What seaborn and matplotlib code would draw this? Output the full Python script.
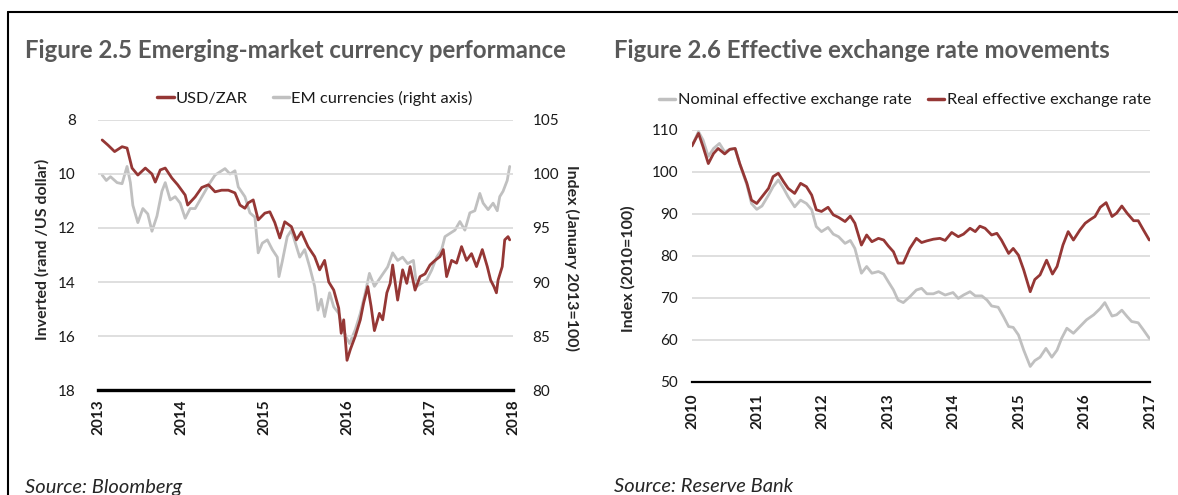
import numpy as np
import pandas as pd
import matplotlib
matplotlib.use('Agg')
import matplotlib.pyplot as plt
import seaborn as sns
from matplotlib.lines import Line2D

# Figure 2.5: USD/ZAR (inverted, left axis) and EM currency index (right axis)
zar_years = [2013.05, 2013.12, 2013.20, 2013.29, 2013.35, 2013.41, 2013.48, 2013.57, 2013.65, 2013.69,
             2013.75, 2013.81, 2013.89, 2013.96, 2014.05, 2014.08, 2014.17, 2014.25, 2014.33, 2014.41,
             2014.49, 2014.57, 2014.65, 2014.71, 2014.77, 2014.81, 2014.87, 2014.93, 2015.01, 2015.07,
             2015.13, 2015.19, 2015.25, 2015.33, 2015.39, 2015.45, 2015.53, 2015.61, 2015.67, 2015.73,
             2015.78, 2015.84, 2015.90, 2015.93, 2015.96, 2016.00, 2016.04, 2016.10, 2016.16, 2016.20,
             2016.25, 2016.29, 2016.33, 2016.39, 2016.43, 2016.48, 2016.52, 2016.55, 2016.61, 2016.67,
             2016.72, 2016.76, 2016.82, 2016.88, 2016.94, 2017.00, 2017.06, 2017.12, 2017.16, 2017.20,
             2017.26, 2017.32, 2017.38, 2017.44, 2017.50, 2017.56, 2017.63, 2017.69, 2017.73, 2017.77,
             2017.80, 2017.82, 2017.87, 2017.90, 2017.94, 2017.96]
zar_rate = [8.74, 8.93, 9.17, 8.99, 9.04, 9.78, 10.04, 9.78, 10.0, 10.3,
            9.85, 9.78, 10.15, 10.4, 10.78, 11.15, 10.85, 10.5, 10.4, 10.66,
            10.6, 10.6, 10.7, 11.15, 11.27, 11.07, 10.96, 11.7, 11.45, 11.4,
            11.8, 12.37, 11.77, 11.95, 12.44, 12.15, 12.69, 13.06, 13.55, 13.2,
            14.0, 14.3, 14.97, 15.9, 15.4, 16.9, 16.5, 16.0, 15.4, 14.78,
            14.17, 14.9, 15.8, 15.16, 15.4, 14.4, 14.05, 13.37, 14.67, 13.55,
            14.05, 13.43, 14.3, 13.8, 13.7, 13.37, 13.2, 13.06, 12.8, 13.8,
            13.2, 13.3, 12.69, 13.2, 12.95, 13.43, 12.8, 13.43, 13.93, 14.17,
            14.4, 13.93, 13.43, 12.44, 12.32, 12.44]

em_years = [2013.05, 2013.10, 2013.15, 2013.23, 2013.29, 2013.35, 2013.39, 2013.42, 2013.48, 2013.54,
            2013.60, 2013.65, 2013.71, 2013.77, 2013.81, 2013.87, 2013.93, 2013.99, 2014.05, 2014.11,
            2014.17, 2014.23, 2014.29, 2014.35, 2014.41, 2014.47, 2014.53, 2014.59, 2014.65, 2014.69,
            2014.77, 2014.83, 2014.89, 2014.93, 2014.98, 2015.04, 2015.10, 2015.16, 2015.18, 2015.22,
            2015.28, 2015.33, 2015.39, 2015.43, 2015.49, 2015.55, 2015.61, 2015.65, 2015.69, 2015.73,
            2015.79, 2015.84, 2015.90, 2015.94, 2015.99, 2016.03, 2016.10, 2016.16, 2016.22, 2016.27,
            2016.33, 2016.41, 2016.49, 2016.55, 2016.61, 2016.67, 2016.73, 2016.80, 2016.84, 2016.90,
            2016.96, 2017.02, 2017.08, 2017.14, 2017.18, 2017.24, 2017.30, 2017.36, 2017.42, 2017.48,
            2017.54, 2017.60, 2017.64, 2017.70, 2017.76, 2017.81, 2017.84, 2017.88, 2017.93, 2017.96]
em_index = [99.9, 99.4, 99.75, 99.2, 99.1, 100.7, 99.2, 97.1, 95.5, 96.8,
            96.3, 94.7, 96.1, 98.4, 99.2, 97.6, 97.9, 97.3, 95.9, 96.8,
            96.8, 97.6, 98.4, 99.2, 99.9, 100.2, 100.5, 100.0, 100.3, 98.8,
            97.9, 96.4, 96.0, 92.7, 93.6, 93.9, 93.0, 92.3, 90.5, 91.9,
            94.2, 94.8, 93.3, 92.3, 93.0, 91.4, 89.6, 87.4, 88.4, 86.8,
            89.0, 87.7, 87.1, 85.9, 84.9, 84.3, 85.6, 87.1, 89.0, 90.8,
            89.6, 90.5, 91.4, 92.7, 92.0, 92.3, 91.7, 92.0, 89.6, 89.9,
            90.2, 91.1, 92.3, 93.0, 94.2, 94.5, 94.8, 95.6, 94.8, 96.4,
            96.6, 98.2, 97.3, 96.7, 97.3, 96.6, 97.9, 98.4, 99.4, 100.7]

# Figure 2.6: effective exchange rates (2010=100)
reer_years = [2010.00, 2010.10, 2010.17, 2010.25, 2010.33, 2010.40, 2010.50, 2010.58, 2010.66, 2010.73,
              2010.84, 2010.91, 2010.99, 2011.07, 2011.17, 2011.24, 2011.32, 2011.40, 2011.47, 2011.57,
              2011.66, 2011.75, 2011.83, 2011.90, 2011.98, 2012.08, 2012.16, 2012.24, 2012.34, 2012.42,
              2012.49, 2012.59, 2012.67, 2012.75, 2012.85, 2012.93, 2013.00, 2013.08, 2013.15, 2013.23,
              2013.33, 2013.43, 2013.51, 2013.59, 2013.69, 2013.79, 2013.87, 2013.97, 2014.07, 2014.15,
              2014.25, 2014.33, 2014.40, 2014.48, 2014.58, 2014.66, 2014.73, 2014.84, 2014.91, 2014.99,
              2015.07, 2015.17, 2015.24, 2015.32, 2015.42, 2015.51, 2015.58, 2015.67, 2015.75, 2015.83,
              2015.93, 2016.01, 2016.09, 2016.16, 2016.24, 2016.33, 2016.42, 2016.49, 2016.57, 2016.65,
              2016.75, 2016.82, 2016.90, 2016.99]
reer = [106.2, 109.2, 106.0, 102.0, 104.4, 105.6, 104.3, 105.4, 105.6, 102.0,
        97.3, 93.3, 92.5, 94.1, 96.1, 98.9, 99.7, 97.7, 96.1, 94.9,
        97.3, 96.5, 94.5, 91.0, 90.6, 91.6, 89.8, 89.2, 88.2, 89.5,
        87.8, 82.6, 85.0, 83.4, 84.2, 83.8, 82.4, 81.0, 78.3, 78.3,
        81.8, 84.2, 83.2, 83.6, 84.0, 84.2, 83.7, 85.6, 84.6, 85.2,
        86.6, 85.8, 87.1, 86.6, 85.0, 85.4, 83.8, 80.6, 81.8, 80.2,
        76.7, 71.5, 74.4, 75.5, 79.0, 75.7, 77.5, 82.6, 85.8, 83.8,
        86.2, 87.8, 88.7, 89.4, 91.6, 92.7, 89.4, 90.2, 91.9, 90.2,
        88.4, 88.4, 86.2, 83.8]

neer_years = [2010.00, 2010.10, 2010.17, 2010.25, 2010.33, 2010.42, 2010.50, 2010.58, 2010.66, 2010.73,
              2010.84, 2010.91, 2010.99, 2011.07, 2011.17, 2011.24, 2011.32, 2011.40, 2011.47, 2011.57,
              2011.66, 2011.75, 2011.83, 2011.90, 2011.98, 2012.08, 2012.16, 2012.24, 2012.34, 2012.42,
              2012.49, 2012.59, 2012.67, 2012.75, 2012.85, 2012.93, 2013.00, 2013.08, 2013.15, 2013.23,
              2013.33, 2013.43, 2013.51, 2013.59, 2013.69, 2013.77, 2013.87, 2013.99, 2014.07, 2014.15,
              2014.25, 2014.33, 2014.43, 2014.51, 2014.58, 2014.68, 2014.76, 2014.84, 2014.91, 2014.99,
              2015.07, 2015.17, 2015.24, 2015.32, 2015.41, 2015.50, 2015.58, 2015.65, 2015.73, 2015.83,
              2015.93, 2016.03, 2016.14, 2016.24, 2016.31, 2016.42, 2016.49, 2016.57, 2016.65, 2016.72,
              2016.82, 2016.90, 2016.99]
neer = [106.2, 109.6, 107.6, 103.7, 105.6, 106.8, 104.8, 105.4, 105.6, 102.0,
        96.9, 92.5, 91.1, 91.9, 94.5, 96.5, 98.1, 96.1, 94.1, 91.7,
        93.3, 92.5, 91.0, 87.0, 85.8, 86.8, 85.2, 84.6, 83.0, 83.7,
        81.8, 75.9, 77.5, 75.9, 76.3, 75.7, 73.9, 71.9, 69.5, 68.9,
        70.3, 71.9, 72.3, 71.0, 71.0, 71.5, 70.7, 71.3, 69.9, 70.7,
        71.5, 70.5, 70.5, 69.5, 68.1, 67.8, 65.6, 63.2, 63.0, 61.2,
        57.6, 53.7, 55.1, 55.9, 58.0, 55.9, 57.6, 60.4, 62.8, 61.6,
        63.2, 64.8, 66.0, 67.5, 68.9, 65.7, 66.0, 67.1, 65.6, 64.4,
        64.1, 62.4, 60.4]

RED = '#953735'
GREY = '#c0c0c0'
TITLE_GREY = '#595959'
GRID = '#d9d9d9'

sns.set_theme(style='white')
plt.rcParams['font.family'] = ['Lato', 'DejaVu Sans']
plt.rcParams['text.color'] = '#1a1a1a'
plt.rcParams['xtick.color'] = '#1a1a1a'
plt.rcParams['ytick.color'] = '#1a1a1a'

fig = plt.figure(figsize=(11.78, 4.95), dpi=100)


def style_axis(ax, ticks, bottom_lw):
    ax.set_yticks(ticks)
    ax.grid(False)
    for s in ['left', 'right', 'top']:
        ax.spines[s].set_visible(False)
    ax.spines['bottom'].set_color('black')
    ax.spines['bottom'].set_linewidth(bottom_lw)
    ax.tick_params(axis='both', length=0, labelsize=11)
    ax.set_xlabel('')


# ---------- Figure 2.5 ----------
ax1 = fig.add_axes([0.0832, 0.2121, 0.3523, 0.5455])
for g in [8, 10, 12, 14, 16]:
    ax1.axhline(g, color=GRID, lw=1.2, zorder=0)
sns.lineplot(x=zar_years, y=zar_rate, ax=ax1, color=RED, lw=2.0, zorder=3)
ax1.set_xlim(2013, 2018)
ax1.set_ylim(18, 8)
style_axis(ax1, [8, 10, 12, 14, 16, 18], 2.4)
ax1.set_xticks([2013, 2014, 2015, 2016, 2017, 2018])
ax1.set_xticklabels(['2013', '2014', '2015', '2016', '2017', '2018'], rotation=90, fontweight='bold')
ax1.tick_params(axis='y', pad=16)
ax1.tick_params(axis='x', pad=7)
ax1.set_ylabel('Inverted (rand /US dollar)', fontsize=11.5, fontweight='bold', color='#262626')
ax1.yaxis.label.set_va('center')
ax1.yaxis.set_label_coords(-0.135, 0.52)

ax1b = ax1.twinx()
sns.lineplot(x=em_years, y=em_index, ax=ax1b, color=GREY, lw=2.0, zorder=2)
ax1b.set_ylim(80, 105)
style_axis(ax1b, [80, 85, 90, 95, 100, 105], 2.4)
ax1b.spines['bottom'].set_visible(False)
ax1b.tick_params(axis='y', pad=14)
ax1b.set_ylabel('Index (January 2013=100)', fontsize=11.5, fontweight='bold', rotation=270,
                color='#262626')
ax1b.yaxis.label.set_va('center')
ax1b.yaxis.set_label_coords(1.142, 0.49)
ax1.set_zorder(ax1b.get_zorder() + 1)
ax1.patch.set_visible(False)

fig.legend(handles=[Line2D([], [], color=RED, lw=2.5), Line2D([], [], color=GREY, lw=2.5)],
           labels=['USD/ZAR', 'EM currencies (right axis)'],
           loc='center', bbox_to_anchor=(315 / 1178, 1 - 98 / 495), ncol=2, frameon=False,
           fontsize=11.8, handlelength=1.0, handletextpad=0.15, columnspacing=1.5)

# ---------- Figure 2.6 ----------
ax2 = fig.add_axes([0.5874, 0.2283, 0.3888, 0.5091])
for g in [60, 70, 80, 90, 100, 110]:
    ax2.axhline(g, color=GRID, lw=1.2, zorder=0)
sns.lineplot(x=neer_years, y=neer, ax=ax2, color=GREY, lw=2.0, zorder=2)
sns.lineplot(x=reer_years, y=reer, ax=ax2, color=RED, lw=2.0, zorder=3)
ax2.set_xlim(2010, 2017)
ax2.set_ylim(50, 110)
style_axis(ax2, [50, 60, 70, 80, 90, 100, 110], 1.6)
ax2.set_xticks(list(range(2010, 2018)))
ax2.set_xticklabels([str(y) for y in range(2010, 2018)], rotation=90, fontweight='bold')
ax2.tick_params(axis='y', pad=10)
ax2.tick_params(axis='x', pad=8)
ax2.set_ylabel('Index (2010=100)', fontsize=11.5, fontweight='bold', color='#262626')
ax2.yaxis.label.set_va('center')
ax2.yaxis.set_label_coords(-0.14, 0.45)

fig.legend(handles=[Line2D([], [], color=GREY, lw=2.5), Line2D([], [], color=RED, lw=2.5)],
           labels=['Nominal effective exchange rate', 'Real effective exchange rate'],
           loc='center', bbox_to_anchor=(905 / 1178, 1 - 100 / 495), ncol=2, frameon=False,
           fontsize=11.8, handlelength=1.0, handletextpad=0.15, columnspacing=1.0)

# titles and sources
fig.text(25 / 1178, 1 - 50 / 495, 'Figure 2.5 Emerging-market currency performance',
         fontsize=17.3, fontweight='bold', color=TITLE_GREY, va='center', ha='left')
fig.text(614 / 1178, 1 - 50 / 495, 'Figure 2.6 Effective exchange rate movements',
         fontsize=17.3, fontweight='bold', color=TITLE_GREY, va='center', ha='left')
fig.text(25 / 1178, 1 - 487 / 495, 'Source: Bloomberg', fontsize=14.5, style='italic',
         va='center', ha='left', color='#262626')
fig.text(614 / 1178, 1 - 487 / 495, 'Source: Reserve Bank', fontsize=14.5, style='italic',
         va='center', ha='left', color='#262626')

# outer frame lines (top and left)
fig.add_artist(Line2D([8 / 1178, 1], [1 - 12 / 495, 1 - 12 / 495], color='black', lw=1.5,
                      transform=fig.transFigure))
fig.add_artist(Line2D([8 / 1178, 8 / 1178], [0, 1 - 12 / 495], color='black', lw=1.5,
                      transform=fig.transFigure))

fig.savefig('out.png', dpi=100)
